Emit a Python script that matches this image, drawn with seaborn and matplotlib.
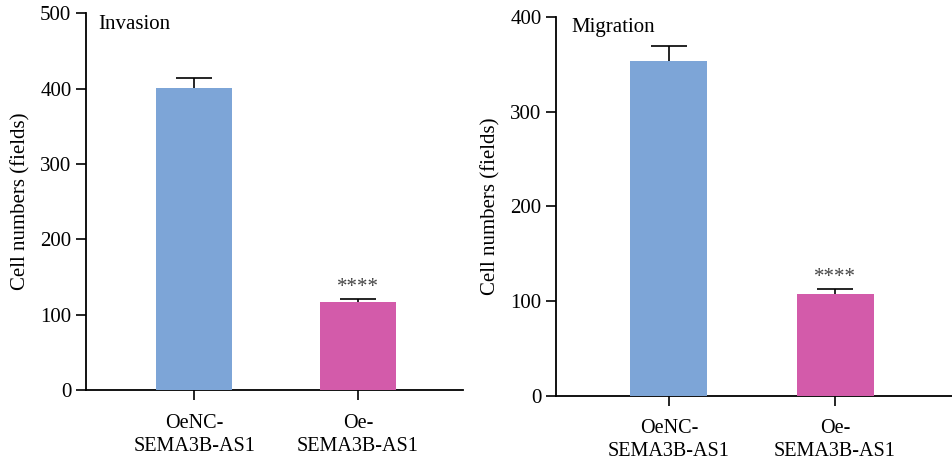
import matplotlib
matplotlib.use("Agg")
import matplotlib.pyplot as plt
import seaborn as sns
import pandas as pd

categories = ["OeNC-\nSEMA3B-AS1", "Oe-\nSEMA3B-AS1"]
invasion_means = [401, 117]
invasion_err = [13, 4]
migration_means = [354, 107]
migration_err = [16, 6]
bar_colors = ["#7DA5D7", "#D35BAA"]
panel_titles = ["Invasion", "Migration"]
yticks_inv = [0, 100, 200, 300, 400, 500]
yticks_mig = [0, 100, 200, 300, 400]
signif = ["", "****"]

sns.set_style("ticks")
plt.rcParams['font.family'] = ['Liberation Serif', 'DejaVu Serif']
plt.rcParams['text.color'] = 'black'
plt.rcParams['axes.labelcolor'] = 'black'

fig = plt.figure(figsize=(9.53, 4.71), dpi=100)
ax1 = fig.add_axes([0.0902, 0.172, 0.3956, 0.7998])
ax2 = fig.add_axes([0.5834, 0.1599, 0.4166, 0.8034])

panels = [
    (ax1, invasion_means, invasion_err, yticks_inv, panel_titles[0], (-0.66, 1.64), 0.969, 0.032),
    (ax2, migration_means, migration_err, yticks_mig, panel_titles[1], (-0.68, 1.71), 0.9736, 0.04),
]

for ax, means, errs, yt, title, xlim, ty, tx in panels:
    df = pd.DataFrame({"group": categories, "value": means})
    sns.barplot(data=df, x="group", y="value", hue="group", palette=bar_colors,
                width=0.463, errorbar=None, legend=False, ax=ax, zorder=3,
                saturation=1, linewidth=0, edgecolor="none")
    eb = ax.errorbar(range(len(means)), means, yerr=[[0]*len(errs), errs], fmt="none",
                     ecolor="black", elinewidth=1.2, capsize=13.3, capthick=1.2, zorder=2)
    eb[1][0].set_visible(False)
    for i, s in enumerate(signif):
        if s:
            ax.annotate(s, (i, means[i] + errs[i]), xytext=(0, 1), textcoords="offset points",
                        ha="center", va="bottom", fontsize=15, color="#444444")
    ax.set_ylim(yt[0], yt[-1])
    ax.set_yticks(yt)
    ax.set_xlim(*xlim)
    ax.set_xlabel("")
    ax.set_ylabel("Cell numbers (fields)", fontsize=15, labelpad=7)
    ax.tick_params(axis="both", labelsize=15, length=7, width=1.2, direction="out",
                   colors="black", labelcolor="black")
    ax.tick_params(axis="x", labelsize=14.5, pad=10)
    for lab in ax.get_xticklabels():
        lab.set_linespacing(1.3)
    sns.despine(ax=ax)
    for sp in ["left", "bottom"]:
        ax.spines[sp].set_linewidth(1.3)
        ax.spines[sp].set_color("black")
    ax.text(tx, ty, title, transform=ax.transAxes, ha="left", va="center", fontsize=15)

fig.savefig("out.png", dpi=100)
